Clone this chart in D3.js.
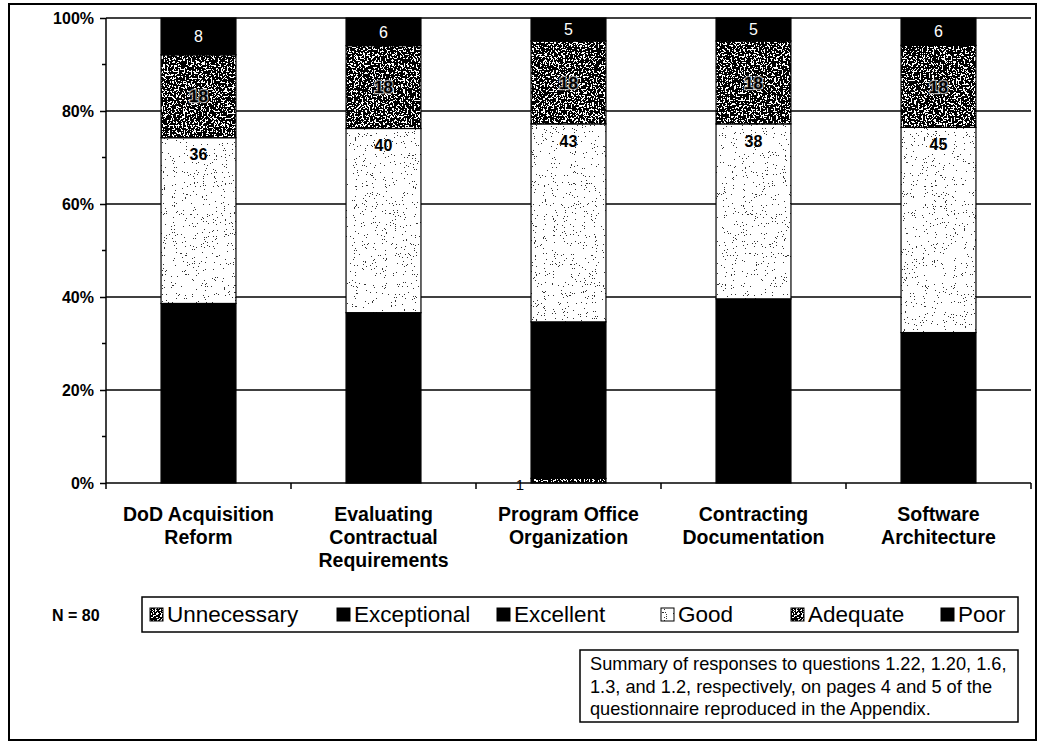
<!DOCTYPE html>
<html>
<head>
<meta charset="utf-8">
<script src="https://cdn.jsdelivr.net/npm/d3@7"></script>
<style>
  body { margin: 0; background: #fff; }
  svg { display: block; font-family: Arial, "Liberation Sans", sans-serif; }
</style>
</head>
<body>
<div id="chart"></div>
<script>
const WIDTH = 1038
const HEIGHT = 746

// categories (two-line labels)
const categories = ["DoD Acquisition Reform", "Evaluating Contractual Requirements", "Program Office Organization", "Contracting Documentation", "Software Architecture"];
const categoryLines = [["DoD Acquisition", "Reform"], ["Evaluating", "Contractual", "Requirements"], ["Program Office", "Organization"], ["Contracting", "Documentation"], ["Software", "Architecture"]];

// series, bottom to top (percent of respondents)
const seriesNames = ["Unnecessary", "Exceptional", "Excellent", "Good", "Adequate", "Poor"];
const unnecessary = [0, 0, 1, 0, 0];
const exceptional = [0, 0, 0, 0, 0];
const excellent = [39, 37, 34, 40, 33];
const good = [36, 40, 43, 38, 45];
const adequate = [18, 18, 18, 18, 18];
const poor = [8, 6, 5, 5, 6];

const yTicks = [0, 0.2, 0.4, 0.6, 0.8, 1];
const yMinorTicks = [0.1, 0.3, 0.5, 0.7, 0.9];
const nLabel = "N = 80";
const noteLines = ["Summary of responses to questions 1.22, 1.20, 1.6,", "1.3, and 1.2, respectively, on pages 4 and 5 of the", "questionnaire reproduced in the Appendix."];

const seriesValues = [unnecessary, exceptional, excellent, good, adequate, poor];
const table = categories.map((c, i) => {
    let row = { category: c };
    seriesNames.forEach((s, j) => row[s] = seriesValues[j][i]);
    return row;
});

var svg = d3.select("#chart").append("svg")
    .attr("width", WIDTH)
    .attr("height", HEIGHT);

var defs = svg.append("defs");

// speckle textures made with turbulence noise
function noiseFilter(id, freq, octaves, seed, cut, dark) {
    let f = defs.append("filter").attr("id", id)
        .attr("x", 0).attr("y", 0).attr("width", 1).attr("height", 1)
        .attr("color-interpolation-filters", "sRGB");
    f.append("feTurbulence").attr("type", "fractalNoise")
        .attr("baseFrequency", freq).attr("numOctaves", octaves).attr("seed", seed).attr("result", "n");
    f.append("feColorMatrix").attr("in", "n").attr("type", "matrix")
        .attr("values", "1 0 0 0 0  1 0 0 0 0  1 0 0 0 0  0 0 0 0 1").attr("result", "g");
    let table = d3.range(100).map(i => i < cut ? dark : 1).join(" ");
    let ct = f.append("feComponentTransfer").attr("in", "g").attr("result", "t");
    ["feFuncR", "feFuncG", "feFuncB"].forEach(fn => ct.append(fn).attr("type", "discrete").attr("tableValues", table));
    f.append("feComposite").attr("in", "t").attr("in2", "SourceGraphic").attr("operator", "in");
}
noiseFilter("speckDark", 0.55, 2, 4, 56, 0);
noiseFilter("speckLight", 0.9, 2, 9, 29, 0.2);

const fills = {
    Unnecessary: { fill: "#444", filter: "url(#speckDark)" },
    Exceptional: { fill: "#000", filter: null },
    Excellent: { fill: "#000", filter: null },
    Good: { fill: "#fff", filter: "url(#speckLight)" },
    Adequate: { fill: "#444", filter: "url(#speckDark)" },
    Poor: { fill: "#000", filter: null }
};

const plot = { left: 106, right: 1031, top: 18, bottom: 483 };

var xScale = d3.scaleBand()
    .domain(categories)
    .range([plot.left, plot.right])
    .paddingInner(0.595)
    .paddingOuter(0.2975);

var yScale = d3.scaleLinear()
    .domain([0, 1])
    .range([plot.bottom, plot.top]);

var stacked = d3.stack()
    .keys(seriesNames)
    .offset(d3.stackOffsetExpand)(table);

// outer frame
svg.append("rect")
    .attr("x", 9).attr("y", 4)
    .attr("width", 1027).attr("height", 736)
    .attr("fill", "none").attr("stroke", "#000").attr("stroke-width", 2);

// gridlines
svg.append("g").selectAll("line")
    .data(yTicks.filter(d => d > 0))
    .enter().append("line")
    .attr("x1", plot.left).attr("x2", plot.right)
    .attr("y1", d => yScale(d)).attr("y2", d => yScale(d))
    .attr("stroke", "#000").attr("stroke-width", 1.5);

// bars
stacked.forEach(layer => {
    let st = fills[layer.key];
    let g = svg.append("g");
    let segs = layer.filter(d => d[1] - d[0] > 0);
    g.selectAll("rect.fill")
        .data(segs)
        .enter().append("rect")
        .attr("class", "fill")
        .attr("x", d => xScale(d.data.category))
        .attr("width", xScale.bandwidth())
        .attr("y", d => yScale(d[1]))
        .attr("height", d => yScale(d[0]) - yScale(d[1]))
        .attr("fill", st.fill)
        .attr("filter", st.filter);
    g.selectAll("rect.edge")
        .data(segs)
        .enter().append("rect")
        .attr("class", "edge")
        .attr("x", d => xScale(d.data.category))
        .attr("width", xScale.bandwidth())
        .attr("y", d => yScale(d[1]))
        .attr("height", d => yScale(d[0]) - yScale(d[1]))
        .attr("fill", "none")
        .attr("stroke", "#000").attr("stroke-width", 1.2);
});

// y axis
var yAxis = svg.append("g")
    .attr("transform", `translate(${plot.left},0)`)
    .call(d3.axisLeft(yScale).tickValues(yTicks).tickSize(6).tickFormat(d3.format(".0%")));
yAxis.select(".domain").attr("stroke-width", 1.5).attr("d", `M0,${plot.top}V${plot.bottom}`);
yAxis.selectAll(".tick line").attr("stroke-width", 1.5);
yAxis.selectAll(".tick text")
    .attr("x", -12)
    .attr("font-size", "16px").attr("font-weight", "bold")
    .attr("font-family", "Arial, 'Liberation Sans', sans-serif")
    .attr("fill", "#000");
svg.append("g").selectAll("line")
    .data(yMinorTicks)
    .enter().append("line")
    .attr("x1", plot.left - 4).attr("x2", plot.left)
    .attr("y1", d => yScale(d)).attr("y2", d => yScale(d))
    .attr("stroke", "#000").attr("stroke-width", 1.5);

// x axis line with ticks at category boundaries
svg.append("line")
    .attr("x1", plot.left).attr("x2", plot.right)
    .attr("y1", plot.bottom).attr("y2", plot.bottom)
    .attr("stroke", "#000").attr("stroke-width", 1.5);
const step = xScale.step();
svg.append("g").selectAll("line")
    .data(d3.range(categories.length + 1))
    .enter().append("line")
    .attr("x1", i => plot.left + i * step).attr("x2", i => plot.left + i * step)
    .attr("y1", plot.bottom).attr("y2", plot.bottom + 6)
    .attr("stroke", "#000").attr("stroke-width", 1.5);

// category labels
var catText = svg.append("g").selectAll("text")
    .data(categories)
    .enter().append("text")
    .attr("text-anchor", "middle")
    .attr("font-size", "19.5px").attr("font-weight", "bold")
    .attr("fill", "#000");
catText.each(function(c, i) {
    d3.select(this).selectAll("tspan")
        .data(categoryLines[i])
        .enter().append("tspan")
        .attr("x", xScale(c) + xScale.bandwidth() / 2)
        .attr("y", (d, k) => 521 + k * 23)
        .text(d => d);
});

// value labels
const labelStyle = {
    Poor: { fill: "#fff", weight: "normal", size: 16, pos: "mid", halo: null },
    Adequate: { fill: "#000", weight: "bold", size: 17, pos: "mid", halo: "#bbb" },
    Good: { fill: "#000", weight: "bold", size: 16, pos: "top", halo: null },
    Unnecessary: { fill: "#000", weight: "normal", size: 15, pos: "base", halo: null }
};
stacked.forEach((layer, li) => {
    let ls = labelStyle[layer.key];
    if (!ls) return;
    let t = svg.append("g").selectAll("text")
        .data(layer.map((d, i) => ({ d: d, v: seriesValues[li][i] })).filter(o => o.v > 0))
        .enter().append("text")
        .attr("x", o => {
            let x0 = xScale(o.d.data.category);
            return ls.pos === "base" ? x0 - 11 : x0 + xScale.bandwidth() / 2;
        })
        .attr("y", o => {
            if (ls.pos === "top") return yScale(o.d[1]) + 17;
            if (ls.pos === "base") return yScale(o.d[0]) + 2;
            return (yScale(o.d[0]) + yScale(o.d[1])) / 2;
        })
        .attr("dy", "0.36em")
        .attr("text-anchor", "middle")
        .attr("font-size", ls.size + "px")
        .attr("font-weight", ls.weight)
        .attr("fill", ls.fill)
        .text(o => o.v);
    if (ls.halo) {
        t.attr("stroke", ls.halo).attr("stroke-width", 2.5)
            .attr("stroke-opacity", 0.8)
            .attr("paint-order", "stroke");
    }
});

// N label
svg.append("text")
    .attr("x", 52).attr("y", 621)
    .attr("font-size", "16px").attr("font-weight", "bold")
    .text(nLabel);

// legend
const legendX = [150, 337, 497, 661, 791, 941];
var legend = svg.append("g");
legend.append("rect")
    .attr("x", 142).attr("y", 597)
    .attr("width", 876).attr("height", 35)
    .attr("fill", "#fff").attr("stroke", "#000").attr("stroke-width", 1.5);
var items = legend.selectAll("g.item")
    .data(seriesNames)
    .enter().append("g")
    .attr("class", "item")
    .attr("transform", (d, i) => `translate(${legendX[i]},608)`);
items.append("rect")
    .attr("width", 13).attr("height", 13)
    .attr("fill", d => fills[d].fill)
    .attr("filter", d => fills[d].filter);
items.append("rect")
    .attr("width", 13).attr("height", 13)
    .attr("fill", "none").attr("stroke", "#000").attr("stroke-width", 1);
items.append("text")
    .attr("x", 17).attr("y", 14)
    .attr("font-size", "22.5px")
    .text(d => d);

// note box
svg.append("rect")
    .attr("x", 580).attr("y", 650)
    .attr("width", 438).attr("height", 72)
    .attr("fill", "#fff").attr("stroke", "#000").attr("stroke-width", 1.5);
svg.append("g").selectAll("text")
    .data(noteLines)
    .enter().append("text")
    .attr("x", 590)
    .attr("y", (d, i) => 670 + i * 22.5)
    .attr("font-size", "18.2px")
    .text(d => d);
</script>
</body>
</html>
